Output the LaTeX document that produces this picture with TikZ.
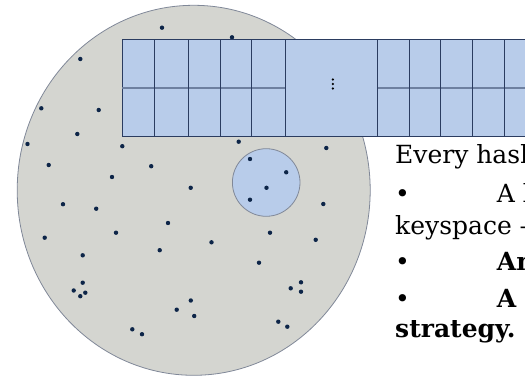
\documentclass[tikz,border=0pt]{standalone}
\usepackage{fontspec}
\usetikzlibrary{shapes.geometric}
\setmainfont{DejaVu Serif}
\definecolor{discfill}{RGB}{212,213,208}
\definecolor{discline}{RGB}{128,136,152}
\definecolor{cellfill}{RGB}{184,204,234}
\definecolor{cellline}{RGB}{43,60,96}
\definecolor{midline}{RGB}{110,128,160}
\definecolor{dotcol}{RGB}{13,37,72}
\tikzset{
  keydot/.style={fill=dotcol, draw=none},
  txt/.style={anchor=base west, inner sep=0pt, font=\fontsize{25}{30}\selectfont, text=black},
}
\begin{document}
\begin{tikzpicture}[x=1pt,y=-1pt]
\useasboundingbox (0,0) rectangle (525,377);
\clip (0,0) rectangle (525,377);
% big disc
\node[ellipse, draw=discline, fill=discfill, line width=0.8pt, minimum width=353pt, minimum height=370pt, inner sep=0pt] (disc) at (193.7,190.3) {};
% dots
\foreach \x/\y in {162/27.7, 232/37.3, 80.3/59, 41.3/108.3, 98.7/110, 77.3/134, 27.5/144, 122.3/146.2, 238.7/141.7, 48.7/165, 151.2/166.2, 112/177, 326.3/148, 190.7/187.8, 63/204.2, 96.2/208.7, 323.3/204, 168/223, 116/232.7, 44.7/237.7, 270/232.7, 159.7/250.2, 211.5/242.3, 315.7/239.8, 82.7/255.3, 259/262.7, 82.7/282.7, 73.7/290.5, 85.3/292.7, 80.3/296.2, 190.8/300.5, 176.7/309.7, 194.2/316, 301/282.3, 290.7/288.3, 301/291.7, 278.3/321.7, 287.3/326.7, 132.3/329.3, 142/334.2}
  \fill[keydot] (\x,\y) circle (2.2);
% small range disc
\node[circle, draw=discline, fill=cellfill, line width=0.8pt, minimum size=67.6pt, inner sep=0pt] (range) at (266.2,182.5) {};
\foreach \x/\y in {250/159, 286.2/172.3, 266.5/187.8, 250/199.7}
  \fill[keydot] (\x,\y) circle (2.2);
% table
\node[draw=cellline, fill=cellfill, line width=0.9pt, minimum width=420pt, minimum height=97pt, inner sep=0pt, anchor=north west] (table) at (122,39.5) {};
\coordinate (ml) at (122,88);
\coordinate (mr) at (285.7,88);
\coordinate (nl) at (377.3,88);
\coordinate (nr) at (545,88);
\draw[midline, line width=1.2pt] (ml) -- (mr) (nl) -- (nr);
\foreach \x in {154,188.5,220.5,251.5,285.7,377.3,409,440.8,472.7,504.7}
  \draw[cellline, line width=0.9pt] (\x,39.5) -- (\x,136.5);
\foreach \y in {79.5,84,88.5}
  \fill[black] (332.8,\y) circle (1.3);
% text
\node[txt] (t1) at (395,164) {Every hash};
\node[txt] (b1) at (395,202) {•};
\node[txt] (t2) at (496.7,202) {A l};
\node[txt] (t3) at (395,234) {keyspace –};
\node[txt] (b2) at (395,270) {•};
\node[txt] (t4) at (496.7,270) {\bfseries An};
\node[txt] (b3) at (395,307) {•};
\node[txt] (t5) at (496.7,307) {\bfseries A};
\node[txt] (t6) at (395,337) {\bfseries strategy.};
\end{tikzpicture}
\end{document}
